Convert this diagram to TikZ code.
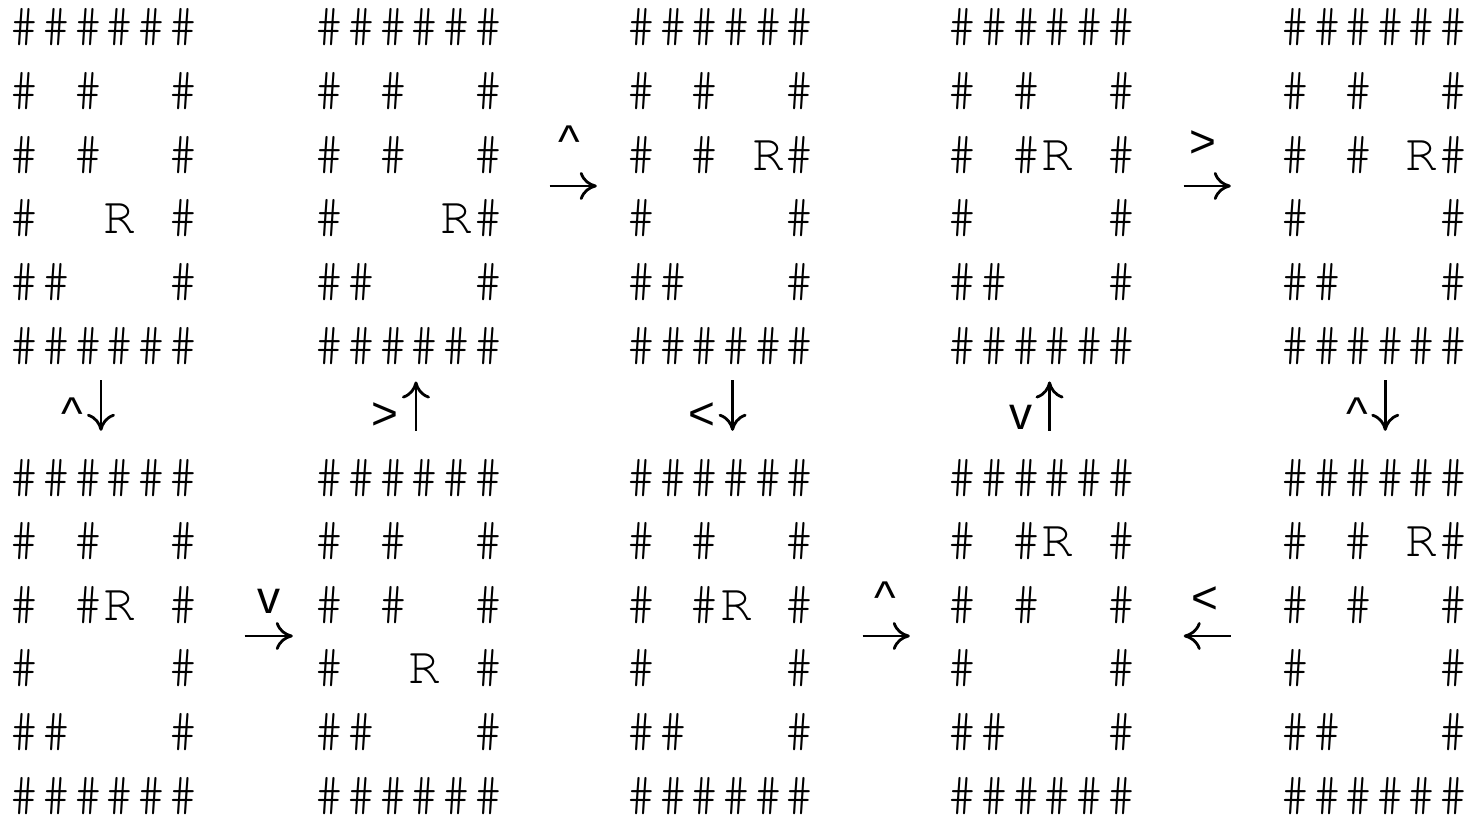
\documentclass[tikz,border=0pt]{standalone}
\usepackage{fontspec}
\newcommand{\mazefont}{\fontencoding{T1}\fontfamily{pcr}\selectfont}
\newfontfamily\movefont{Liberation Sans}
\usetikzlibrary{arrows.meta,fit}
% one maze: name, left edge, first baseline, six rows
\newcommand{\mazegrid}[4]{%
  \foreach \mazeline [count=\rowno] in {#4}
    \node[mazerow] (#1r\rowno) at (#2, #3+63.6*\rowno-63.6) {\mazeline};
  \node[fit=(#1r1)(#1r6), inner sep=0pt] (#1) {};
}

\begin{document}
\begin{tikzpicture}[x=1pt, y=-1pt,
    mazerow/.style={font=\mazefont\fontsize{52.7}{63.6}\selectfont, inner sep=0pt, anchor=base west},
    movearrow/.style={-{Computer Modern Rightarrow[length=17pt, width=28pt, line width=2.8pt]}, line width=2.8pt},
    movelabel/.style={font=\movefont\fontsize{46}{46}\selectfont, inner sep=0pt}
]
\useasboundingbox (0,0) rectangle (1472,816);

% top row
\mazegrid{t1}{8.7}{43}{\#\#\#\#\#\#, \#~\#~~\#, \#~\#~~\#, \#~~R~\#, \#\#~~~\#, \#\#\#\#\#\#}
\mazegrid{t2}{313.7}{43}{\#\#\#\#\#\#, \#~\#~~\#, \#~\#~~\#, \#~~~R\#, \#\#~~~\#, \#\#\#\#\#\#}
\mazegrid{t3}{625.4}{43}{\#\#\#\#\#\#, \#~\#~~\#, \#~\#~R\#, \#~~~~\#, \#\#~~~\#, \#\#\#\#\#\#}
\mazegrid{t4}{946.7}{43}{\#\#\#\#\#\#, \#~\#~~\#, \#~\#R~\#, \#~~~~\#, \#\#~~~\#, \#\#\#\#\#\#}
\mazegrid{t5}{1279.2}{43}{\#\#\#\#\#\#, \#~\#~~\#, \#~\#~R\#, \#~~~~\#, \#\#~~~\#, \#\#\#\#\#\#}

% bottom row
\mazegrid{b1}{8.7}{493}{\#\#\#\#\#\#, \#~\#~~\#, \#~\#R~\#, \#~~~~\#, \#\#~~~\#, \#\#\#\#\#\#}
\mazegrid{b2}{313.7}{493}{\#\#\#\#\#\#, \#~\#~~\#, \#~\#~~\#, \#~~R~\#, \#\#~~~\#, \#\#\#\#\#\#}
\mazegrid{b3}{625.4}{493}{\#\#\#\#\#\#, \#~\#~~\#, \#~\#R~\#, \#~~~~\#, \#\#~~~\#, \#\#\#\#\#\#}
\mazegrid{b4}{946.7}{493}{\#\#\#\#\#\#, \#~\#R~\#, \#~\#~~\#, \#~~~~\#, \#\#~~~\#, \#\#\#\#\#\#}
\mazegrid{b5}{1279.2}{493}{\#\#\#\#\#\#, \#~\#~R\#, \#~\#~~\#, \#~~~~\#, \#\#~~~\#, \#\#\#\#\#\#}

% horizontal moves
\draw[movearrow, shorten <=45.7pt, shorten >=28.4pt] (t2) -- node[movelabel, pos=0.538, anchor=base, yshift=28pt] {\textasciicircum} (t3);
\draw[movearrow, shorten <=46.7pt, shorten >=48.2pt] (t4) -- node[movelabel, pos=0.467, anchor=base, yshift=28pt] {\textgreater} (t5);
\draw[movearrow, shorten <=45.7pt, shorten >=20.7pt] (b1) -- node[movelabel, pos=0.613, anchor=base, yshift=22pt] {v} (b2);
\draw[movearrow, shorten <=47pt, shorten >=36.7pt] (b3) -- node[movelabel, pos=0.53, anchor=base, yshift=22pt] {\textasciicircum} (b4);
\draw[movearrow, shorten <=48.2pt, shorten >=46.7pt] (b5) -- node[movelabel, pos=0.523, anchor=base, yshift=22pt] {\textless} (b4);

% vertical moves
\draw[movearrow, shorten <=17.4pt, shorten >=28.1pt] ([xshift=-2.8pt]t1.south) -- node[movelabel, pos=0.69, anchor=base east, xshift=-16pt] {\textasciicircum} ([xshift=-2.8pt]b1.north);
\draw[movearrow, shorten <=28.1pt, shorten >=18.4pt] ([xshift=7.2pt]b2.north) -- node[movelabel, pos=0.31, anchor=base east, xshift=-16pt] {\textgreater} ([xshift=7.2pt]t2.south);
\draw[movearrow, shorten <=17.4pt, shorten >=28.1pt] ([xshift=12.1pt]t3.south) -- node[movelabel, pos=0.69, anchor=base east, xshift=-16pt] {\textless} ([xshift=12.1pt]b3.north);
\draw[movearrow, shorten <=28.1pt, shorten >=18.4pt] ([xshift=7.8pt]b4.north) -- node[movelabel, pos=0.31, anchor=base east, xshift=-16pt] {v} ([xshift=7.8pt]t4.south);
\draw[movearrow, shorten <=17.4pt, shorten >=28.1pt] ([xshift=11pt]t5.south) -- node[movelabel, pos=0.69, anchor=base east, xshift=-16pt] {\textasciicircum} ([xshift=11pt]b5.north);

\end{tikzpicture}
\end{document}
